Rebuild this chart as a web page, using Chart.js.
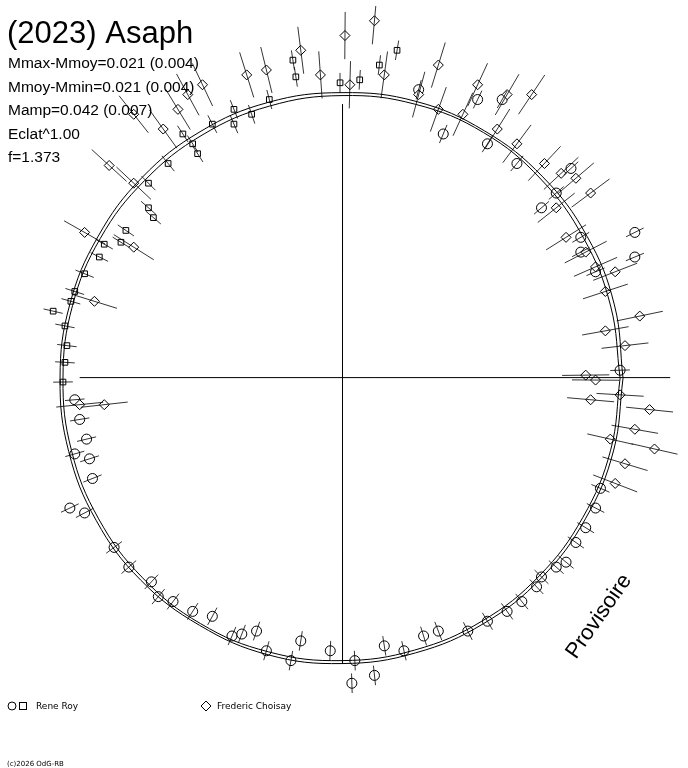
<!DOCTYPE html>
<html><head><meta charset="utf-8">
<script src="https://cdn.jsdelivr.net/npm/chart.js@4"></script>
<style>html,body{margin:0;padding:0;background:#fff}#w{width:688px;height:768px;position:relative}</style>
</head><body><div id="w"><canvas id="c"></canvas></div>
<script>
// offsets from pole (x right, y up), same unit as the radius of the mean curve
const royCircles=[[-272,-22],[-267,-42],[-260,-62],[-257,-82],[-272,-77],[-254,-102],[-277,-132],[-262,-137],[-232,-172],[-217,-192],[-194,-207],[-187,-222],[-172,-227],[-152,-237],[-132,-242],[-112,-262],[-102,-260],[-87,-257],[-77,-277],[-52,-287],[-42,-267],[-12,-277],[10,-310],[13,-287],[33,-302],[43,-272],[63,-277],[83,-262],[98,-257],[128,-257],[148,-247],[168,-237],[183,-227],[198,-212],[203,-202],[218,-192],[228,-187],[238,-167],[248,-152],[258,-132],[263,-112],[218,188],[203,173],[243,143],[243,128],[258,108],[298,148],[298,123],[163,283],[148,238],[138,283],[78,293],[103,248],[178,218],[233,213],[283,8]];
const roySquares=[[-284,-4],[-282,16],[-280,33],[-282,53],[-294,68],[-276,78],[-272,88],[-262,106],[-247,123],[-242,136],[-225,138],[-220,150],[-197,173],[-192,163],[-197,198],[-177,218],[-162,248],[-147,228],[-132,258],[-110,258],[-92,268],[-74,283],[-47,306],[-2,300],[18,303],[38,318],[56,333],[-50,323],[-110,273],[-152,238]];
const choisay=[[-237,216],[-212,198],[-212,133],[-182,253],[-167,273],[-157,288],[-142,298],[-97,308],[-77,313],[-42,333],[-22,308],[8,298],[3,348],[33,363],[43,308],[78,288],[98,273],[123,268],[138,298],[168,288],[193,288],[178,238],[206,218],[223,208],[238,203],[253,188],[218,173],[228,143],[248,128],[258,113],[268,88],[278,108],[303,63],[268,48],[288,33],[248,3],[258,-2],[283,-17],[253,-22],[313,-32],[298,-52],[318,-72],[273,-62],[288,-87],[278,-107],[-267,-27],[-242,-27],[-252,78],[-262,148],[98,318],[158,253],[-212,268]];
const royErr=10, choisayErr=24;
const curveAngles=[0,15,30,45,60,75,90,105,120,135,150,165,180,195,210,225,240,255,270,285,300,315,330,345,360];
const curveA=[286,287,288,289,290,291,290,290,289,288,287,287,287,288,289,290,290,291,290,289,288,287,286,286,286];
const curveB=[283,283,284,286,288,288,287,286,285,284,284,284,284,285,286,287,288,288,287,286,285,284,283,283,283];
const stats=["Mmax-Mmoy=0.021 (0.004)","Mmoy-Mmin=0.021 (0.004)","Mamp=0.042 (0.007)","Eclat^1.00","f=1.373"];

const pts=a=>a.map(p=>({x:p[0],y:p[1]}));
function bars(a,e){const o=[];a.forEach(p=>{const r=Math.hypot(p[0],p[1]),ux=p[0]/r,uy=p[1]/r;o.push({x:p[0]-ux*e,y:p[1]-uy*e},{x:p[0]+ux*e,y:p[1]+uy*e},{x:NaN,y:NaN});});return o;}
const curve=r=>curveAngles.map((a,i)=>({x:r[i]*Math.cos(a*Math.PI/180),y:r[i]*Math.sin(a*Math.PI/180)}));
const line=(d,w)=>({type:'line',data:d,borderColor:'#000',borderWidth:w||1,pointRadius:0,fill:false,spanGaps:false,tension:0});
const ds=[
 line([{x:-267,y:0.5},{x:334,y:0.5}]),
 line([{x:0.5,y:278},{x:0.5,y:-290}]),
 Object.assign(line(curve(curveA)),{tension:0.4}),
 Object.assign(line(curve(curveB)),{tension:0.4}),
 line(bars(choisay,choisayErr),0.8),
 line(bars(roySquares,royErr),0.8),
 line(bars(royCircles,royErr),0.8),
 {type:'scatter',data:pts(choisay),pointStyle:'rectRot',pointRadius:5,borderColor:'#000',backgroundColor:'#fff',borderWidth:1},
 {type:'scatter',data:pts(roySquares),pointStyle:'rect',pointRadius:4,borderColor:'#000',backgroundColor:'#fff',borderWidth:1},
 {type:'scatter',data:pts(royCircles),pointStyle:'circle',pointRadius:5,borderColor:'#000',backgroundColor:'#fff',borderWidth:1}
];
const txt={id:'txt',afterDraw(c){const g=c.ctx;g.save();g.fillStyle='#000';g.textBaseline='alphabetic';
 g.font='31px "Liberation Sans",Arial';g.fillText('(2023) Asaph',7,43);
 g.font='15.5px "Liberation Sans",Arial';stats.forEach((s,i)=>g.fillText(s,8,68+i*23.5));
 g.save();g.translate(576,660);g.rotate(-55*Math.PI/180);g.font='22px "Liberation Sans",Arial';g.fillText('Provisoire',0,0);g.restore();
 g.lineWidth=1;g.strokeStyle='#000';
 g.beginPath();g.arc(12,706,4,0,2*Math.PI);g.stroke();g.strokeRect(19.5,702.5,7,7);
 g.beginPath();g.moveTo(206,701);g.lineTo(211,706);g.lineTo(206,711);g.lineTo(201,706);g.closePath();g.stroke();
 g.font='9px "DejaVu Sans",Arial';g.fillText('Rene Roy',36,709);g.fillText('Frederic Choisay',217,709);
 g.font='7px "DejaVu Sans",Arial';g.fillText('(c)2026 OdG-RB',7,766);g.restore();}};
new Chart(document.getElementById('c'),{type:'scatter',data:{datasets:ds},plugins:[txt],
 options:{responsive:true,maintainAspectRatio:false,animation:false,layout:{padding:0},
  plugins:{legend:{display:false},tooltip:{enabled:false}},
  scales:{x:{type:'linear',min:-342,max:346,display:false},y:{type:'linear',min:-390,max:378,display:false}}}});
</script></body></html>
